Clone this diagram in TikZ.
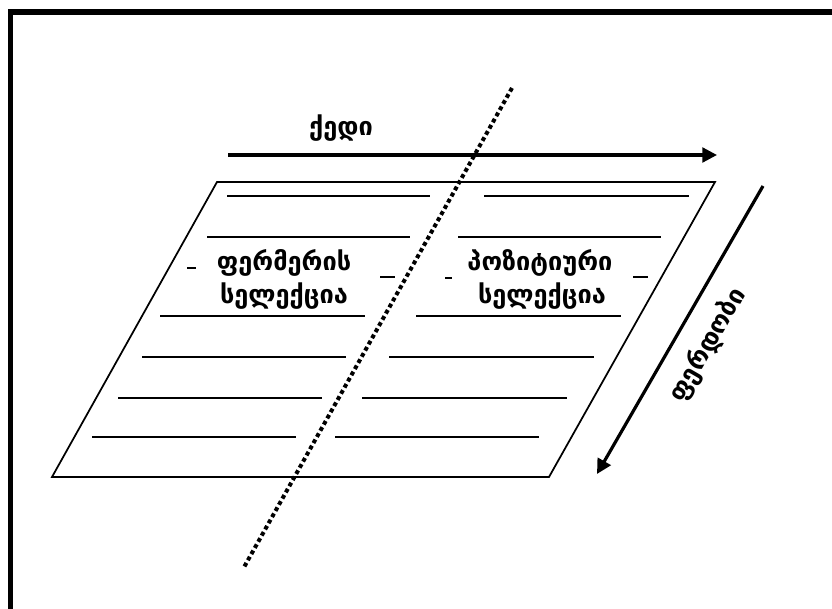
\documentclass[tikz,border=0pt]{standalone}
\usepackage{fontspec}
\newfontfamily\geofont{DejaVu Sans}
\usetikzlibrary{arrows.meta}
\begin{document}
\begin{tikzpicture}[x=0.75pt,y=-0.75pt,
  frameline/.style={line width=4.3pt,line cap=rect},
  pgram/.style={line width=1.3pt},
  ruleline/.style={line width=1.3pt},
  bigarrow/.style={line width=2.4pt,-{Triangle[length=11pt,width=11pt]}},
  dotline/.style={line width=3pt,dash pattern=on 3pt off 2.3pt},
  lbl/.style={font=\geofont\bfseries\fontsize{19}{22}\selectfont,inner sep=0pt},
  tickline/.style={line width=1.3pt}]
\useasboundingbox (0,0) rectangle (832,609);
% frame
\coordinate (fb) at (10.5,620);
\coordinate (ftl) at (10.5,12);
\coordinate (fr) at (840,12);
\draw[frameline] (fb) -- (ftl) -- (fr);
% parallelogram
\coordinate (p1) at (217,182);
\coordinate (p2) at (715,182);
\coordinate (p3) at (549,477);
\coordinate (p4) at (52,477);
\draw[pgram,line join=miter] (p1) -- (p2) -- (p3) -- (p4) -- cycle;
% rules left
\foreach \y/\a/\b in {196/227/430, 237/207/410, 316/160/365, 357/142/346, 398/118/322, 437/92/296}
  \draw[ruleline] (\a,\y) -- (\b,\y);
% rules right
\foreach \y/\a/\b in {196/484/689, 237/458/661, 316/416/621, 357/389/594, 398/362/567, 437/335/539}
  \draw[ruleline] (\a,\y) -- (\b,\y);
% small dashes
\draw[tickline] (187,268) -- (196,268);
\draw[tickline] (380,277) -- (395,277);
\draw[tickline] (445,278) -- (452,278);
\draw[tickline] (633,277) -- (648,277);
% texts
\node[lbl] (t1) at (284,263) {ფერმერის};
\node[lbl] (t2) at (284,296) {სელექცია};
\node[lbl] (t3) at (540,263) {პოზიტიური};
\node[lbl] (t4) at (542,296) {სელექცია};
\node[lbl] (kedi) at (341,128) {ქედი};
\node[lbl,rotate=60] (ferdobi) at (708,345) {ფერდობი};
% arrows
\coordinate (h1) at (228,155);
\coordinate (h2) at (717,155);
\draw[bigarrow] (h1) -- (h2);
\coordinate (d1) at (763,186);
\coordinate (d2) at (597,474);
\draw[bigarrow] (d1) -- (d2);
% dotted divider
\coordinate (s1) at (512,88);
\coordinate (s2) at (243,569);
\draw[dotline] (s1) -- (s2);
\end{tikzpicture}
\end{document}
